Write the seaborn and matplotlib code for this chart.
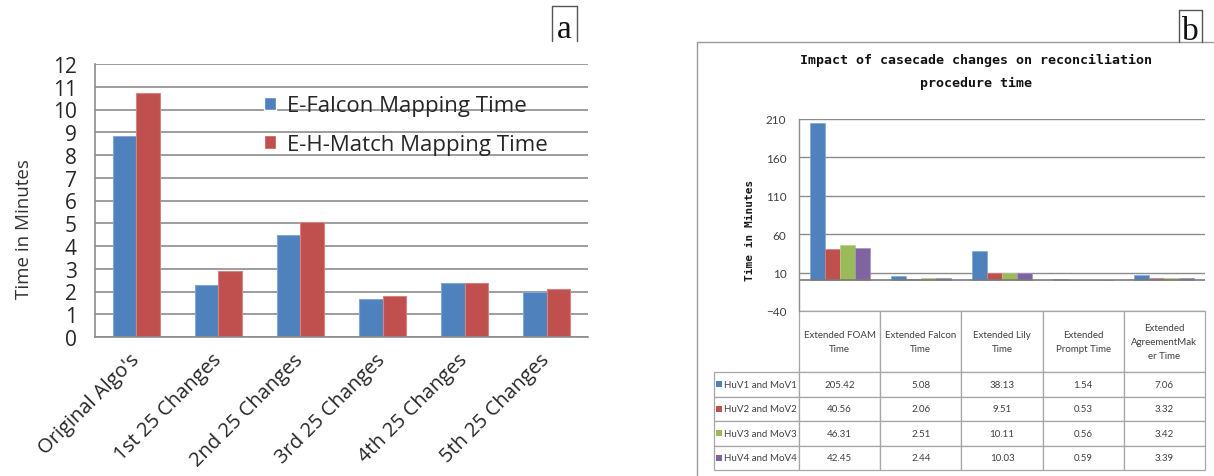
import matplotlib
matplotlib.use("Agg")
import matplotlib.pyplot as plt
import seaborn as sns
import pandas as pd
from matplotlib.table import Table
from matplotlib.patches import Rectangle
from matplotlib.lines import Line2D
from matplotlib.colors import to_rgb

# ---- Panel (a): mapping time per batch of changes ----
stages = ["Original Algo's", "1st 25 Changes", "2nd 25 Changes",
          "3rd 25 Changes", "4th 25 Changes", "5th 25 Changes"]
falcon_minutes = [8.85, 2.29, 4.50, 1.69, 2.36, 2.00]
hmatch_minutes = [10.71, 2.92, 5.06, 1.82, 2.36, 2.10]
series_a = ["E-Falcon Mapping Time", "E-H-Match Mapping Time"]
yticks_a = list(range(0, 13))

# ---- Panel (b): reconciliation procedure time ----
systems = ["Extended FOAM\nTime", "Extended Falcon\nTime", "Extended Lily\nTime",
           "Extended\nPrompt Time", "Extended\nAgreementMak\ner Time"]
version_pairs = ["HuV1 and MoV1", "HuV2 and MoV2", "HuV3 and MoV3", "HuV4 and MoV4"]
huv1_mov1 = [205.42, 5.08, 38.13, 1.54, 7.06]
huv2_mov2 = [40.56, 2.06, 9.51, 0.53, 3.32]
huv3_mov3 = [46.31, 2.51, 10.11, 0.56, 3.42]
huv4_mov4 = [42.45, 2.44, 10.03, 0.59, 3.39]
yticks_b = [-40, 10, 60, 110, 160, 210]
title_b = "Impact of casecade changes on reconciliation\nprocedure time"

BLUE, RED, GREEN, PURPLE = "#4F81BD", "#C0504D", "#9BBB59", "#8064A2"
GRID = "#8c8c8c"

sns.set_style("white")
plt.rcParams["font.family"] = ["Open Sans", "DejaVu Sans"]

W, H = 1214, 477
fig = plt.figure(figsize=(W / 100, H / 100), dpi=100)


def px_rect(left, top, right, bottom):
    return [left / W, 1 - bottom / H, (right - left) / W, (bottom - top) / H]


def lighten(c, f=0.35):
    r, g, b = to_rgb(c)
    return (r + (1 - r) * f, g + (1 - g) * f, b + (1 - b) * f)


# ================= Panel (a) =================
ax_a = fig.add_axes(px_rect(95, 65, 588, 338))
df_a = pd.DataFrame({
    "stage": stages * 2,
    "series": [series_a[0]] * len(stages) + [series_a[1]] * len(stages),
    "minutes": falcon_minutes + hmatch_minutes,
})
sns.barplot(data=df_a, x="stage", y="minutes", hue="series",
            palette=[BLUE, RED], width=0.57, gap=0, errorbar=None,
            saturation=1, ax=ax_a)
for p in ax_a.patches:
    p.set_edgecolor(lighten(p.get_facecolor(), 0.3))
    p.set_linewidth(0.8)

ax_a.set_ylim(0, 12)
ax_a.set_xlim(-0.5, len(stages) - 0.5)
ax_a.set_yticks(yticks_a)
ax_a.set_axisbelow(True)
ax_a.yaxis.grid(True, color=GRID, linewidth=1.2)
for s in ["top", "right"]:
    ax_a.spines[s].set_visible(False)
for s in ["left", "bottom"]:
    ax_a.spines[s].set_color(GRID)
    ax_a.spines[s].set_linewidth(1.2)
ax_a.tick_params(axis="y", which="major", length=6, width=1.2, color=GRID,
                 labelsize=15, labelcolor="#262626", pad=7)
ax_a.set_xticks(range(len(stages)))
ax_a.set_xticks([i - 0.5 for i in range(len(stages) + 1)], minor=True)
ax_a.tick_params(axis="x", which="major", length=0, pad=14)
ax_a.tick_params(axis="x", which="minor", length=5, width=1.2, color=GRID)
ax_a.set_xticklabels(stages, rotation=45, ha="right", va="center",
                     rotation_mode="anchor", fontsize=14.5, color="#262626")
ax_a.set_xlabel("")
ax_a.set_ylabel("Time in Minutes", fontsize=13.5, color="#333333")
ax_a.yaxis.set_label_coords(-0.126, 0.40)
sns.move_legend(ax_a, loc="upper left", bbox_to_anchor=(0.343, 0.885),
                frameon=False, title=None, fontsize=16, handlelength=0.55,
                handleheight=0.55, handletextpad=0.5, labelspacing=0.78,
                borderpad=0, borderaxespad=0)
for t in ax_a.get_legend().get_texts():
    t.set_color("#262626")

# ================= Panel (b) =================
ax_b = fig.add_axes(px_rect(799, 120, 1205, 312))
df_b = pd.DataFrame({
    "system": systems * 4,
    "pair": [p for p in version_pairs for _ in systems],
    "minutes": huv1_mov1 + huv2_mov2 + huv3_mov3 + huv4_mov4,
})
sns.barplot(data=df_b, x="system", y="minutes", hue="pair",
            palette=[BLUE, RED, GREEN, PURPLE], width=0.74, gap=0,
            errorbar=None, saturation=1, legend=False, ax=ax_b)
for p in ax_b.patches:
    p.set_edgecolor(lighten(p.get_facecolor(), 0.3))
    p.set_linewidth(0.5)

ax_b.set_ylim(-40, 210)
ax_b.set_xlim(-0.5, len(systems) - 0.5)
ax_b.set_yticks(yticks_b)
ax_b.set_axisbelow(True)
ax_b.yaxis.grid(True, color=GRID, linewidth=1.0)
ax_b.axhline(0, color="#7a7a7a", linewidth=1.2, zorder=1)
for s in ["top", "right", "bottom"]:
    ax_b.spines[s].set_visible(False)
ax_b.spines["left"].set_color(GRID)
ax_b.spines["left"].set_linewidth(1.0)
ax_b.set_xticks([])
ax_b.set_xlabel("")
ax_b.tick_params(axis="y", length=3, width=1.0, color=GRID, labelsize=8.5,
                 labelcolor="#404040", pad=6)
for lab in ax_b.get_yticklabels():
    lab.set_fontfamily("Lato")
ax_b.set_ylabel("Time in Minutes", fontsize=8, fontfamily="DejaVu Sans Mono",
                fontweight="bold", color="#1a1a1a")
ax_b.yaxis.set_label_coords(-0.108, 0.427)

# data table beneath the bars; column 0 holds the series names
label_w, col_w, head_h, row_h = 85.0, 81.2, 61.0, 24.5
ax_w, ax_h = 406.0, 192.0
tab_w = label_w + col_w * len(systems)
tab_h = head_h + row_h * len(version_pairs)
tbl = Table(ax_b, bbox=[-label_w / ax_w, -tab_h / ax_h, tab_w / ax_w, tab_h / ax_h])
tbl.auto_set_font_size(False)
corner = tbl.add_cell(0, 0, width=label_w / ax_w, height=head_h / ax_h, text="")
corner.set_visible(False)
for j, name in enumerate(systems):
    c = tbl.add_cell(0, j + 1, width=col_w / ax_w, height=head_h / ax_h,
                     text=name, loc="center")
    c.get_text().set_linespacing(1.75)
series_b = [huv1_mov1, huv2_mov2, huv3_mov3, huv4_mov4]
for i, (pair, vals) in enumerate(zip(version_pairs, series_b)):
    c = tbl.add_cell(i + 1, 0, width=label_w / ax_w, height=row_h / ax_h,
                     text=pair, loc="left")
    c.PAD = 0.115
    for j, v in enumerate(vals):
        tbl.add_cell(i + 1, j + 1, width=col_w / ax_w, height=row_h / ax_h,
                     text=f"{v:.2f}", loc="center")
for cell in tbl.get_celld().values():
    cell.set_edgecolor("#a6a6a6")
    cell.set_linewidth(0.9)
    cell.get_text().set_fontsize(7)
    cell.get_text().set_fontfamily("Lato")
    cell.get_text().set_color("#404040")
tbl.set_clip_on(False)
ax_b.add_table(tbl)
tbl.set_clip_on(False)

# colour keys in the series-name column
key = 6.0
for i, col in enumerate([BLUE, RED, GREEN, PURPLE]):
    yc = -(head_h + row_h * (i + 0.5)) / ax_h
    ax_b.add_patch(Rectangle(((716 - 799) / ax_w, yc - key / 2 / ax_h),
                             key / ax_w, key / ax_h, transform=ax_b.transAxes,
                             facecolor=col, edgecolor="none", clip_on=False,
                             zorder=5))

# outer chart frame of panel (b)
fig.add_artist(Rectangle((697 / W, -0.2), 1.0, 1.2 - 43 / H,
                         transform=fig.transFigure, fill=False,
                         edgecolor="#9a9a9a", linewidth=1.0))
fig.text(976 / W, 1 - 72 / H, title_b, ha="center", va="center",
         fontsize=9.5, fontfamily="DejaVu Sans Mono", fontweight="bold",
         linespacing=1.95, color="#111111")


# panel letters in open-bottom boxes
def panel_letter(letter, left, right, top, bottom, baseline):
    for xs, ys in [([left, left], [top, bottom]), ([left, right], [top, top]),
                   ([right, right], [top, bottom])]:
        fig.add_artist(Line2D([x / W for x in xs], [1 - y / H for y in ys],
                              color="#555555", linewidth=1.0))
    fig.text((left + right) / 2 / W, 1 - baseline / H, letter, ha="center",
             va="baseline", fontsize=24, fontfamily="Liberation Serif",
             color="#111111")


panel_letter("a", 552, 577, 7, 42, 38)
panel_letter("b", 1179, 1202, 11, 43, 40)

fig.savefig("out.png", dpi=100)
